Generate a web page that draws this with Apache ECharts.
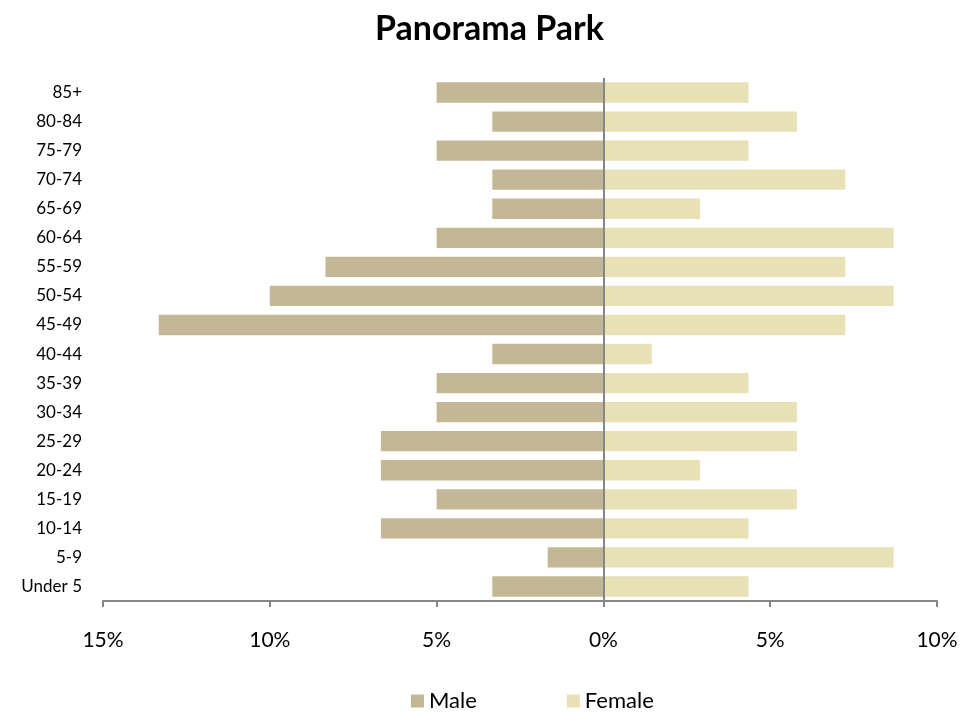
<!DOCTYPE html>
<html>
<head>
<meta charset="utf-8">
<script src="https://cdn.jsdelivr.net/npm/echarts@6/dist/echarts.min.js"></script>
<style>html,body{margin:0;padding:0;background:#fff;}#c{width:979px;height:713px;}</style>
</head>
<body>
<div id="c"></div>
<script>
const categories = ['Under 5','5-9','10-14','15-19','20-24','25-29','30-34','35-39','40-44','45-49','50-54','55-59','60-64','65-69','70-74','75-79','80-84','85+'];
const maleValues = [3.33,1.67,6.67,5.0,6.67,6.67,5.0,5.0,3.33,13.33,10.0,8.33,5.0,3.33,3.33,5.0,3.33,5.0];
const femaleValues = [4.35,8.70,4.35,5.80,2.90,5.80,5.80,4.35,1.45,7.25,8.70,7.25,8.70,2.90,7.25,4.35,5.80,4.35];
const seriesNames = ['Male','Female'];

const font = 'Lato, "Liberation Sans", sans-serif';
const chart = echarts.init(document.getElementById('c'));
chart.setOption({
  animation: false,
  textStyle: { fontFamily: font },
  title: {
    text: 'Panorama Park', left: 'center', top: 7,
    textStyle: { fontFamily: font, fontSize: 34, fontWeight: 'bold', color: '#000' }
  },
  legend: {
    data: seriesNames, left: 406, top: 685, itemWidth: 13, itemHeight: 13, itemGap: 90,
    icon: 'rect',
    textStyle: { fontFamily: font, fontSize: 22, color: '#000', padding: [0, 0, 0, 0] }
  },
  grid: { left: 103, right: 42, top: 78, bottom: 112 },
  xAxis: {
    type: 'value', min: -15, max: 10, interval: 5,
    axisLine: { show: true, lineStyle: { color: '#868686', width: 2 } },
    axisTick: { show: true, length: 6, lineStyle: { color: '#868686', width: 2 } },
    splitLine: { show: false },
    axisLabel: { margin: 29, fontSize: 21, color: '#000', fontFamily: font,
      formatter: v => Math.abs(v) + '%' }
  },
  yAxis: {
    type: 'category', data: categories,
    axisLine: { show: false }, axisTick: { show: false },
    axisLabel: { margin: 21, fontSize: 17, color: '#000', fontFamily: font }
  },
  series: [
    {
      name: seriesNames[0], type: 'bar', stack: 'pop', barCategoryGap: '30%',
      data: maleValues.map(v => -v),
      itemStyle: { color: '#C4B795' },
      markLine: {
        silent: true, symbol: 'none', label: { show: false },
        lineStyle: { color: '#868686', width: 2, type: 'solid' },
        data: [{ xAxis: 0 }]
      },
      z: 2
    },
    {
      name: seriesNames[1], type: 'bar', stack: 'pop', barCategoryGap: '30%',
      data: femaleValues,
      itemStyle: { color: '#E8E1B6' },
      z: 2
    }
  ]
});
</script>
</body>
</html>
